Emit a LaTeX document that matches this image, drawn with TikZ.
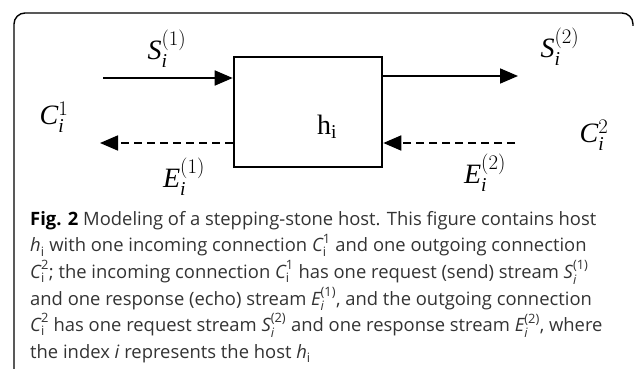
\documentclass[tikz,border=0pt]{standalone}
\usepackage{amsmath}
\usepackage{fontspec}
\setmainfont{Liberation Serif}
\newfontfamily\capfont{Open Sans}
\usetikzlibrary{arrows.meta}

% stream and connection symbols
\newcommand\mvar[3]{$\mathit{#1}_{\mathit{#2}}^{#3}$}
\newcommand\capvar[3]{$\textit{#1}_{#2}^{\text{#3}}$}

\tikzset{
  hostbox/.style={draw, line width=2.6pt, minimum width=148pt, minimum height=110pt, inner sep=0pt},
  flow/.style={line width=1.8pt, -{Triangle[length=18pt,width=15pt]}},
  echo/.style={flow, dash pattern=on 8pt off 5pt},
  mlabel/.style={inner sep=0pt, font=\fontsize{28}{30}\selectfont},
}

\begin{document}
\begin{tikzpicture}[x=1pt, y=-1pt]
\useasboundingbox (0,0) rectangle (635,369);

\draw[line width=1.4pt, rounded corners=11pt] (14,369) -- (14,13) -- (633,13) -- (633,26);

\node[hostbox] (host) at (308,112) {};
\node[mlabel] (hname) at ([shift={(19,15)}]host.center) {$\mathrm{h}_{\mathrm{i}}$};

\coordinate (s1start) at (103,78);
\coordinate (e1end) at (100,143);
\coordinate (s2end) at (518,76);
\coordinate (e2start) at (515,143);

\draw[flow] (s1start) -- (s1start -| host.west);
\draw[echo] (host.west |- e1end) -- (e1end);
\draw[flow] (host.east |- s2end) -- (s2end);
\draw[echo] (e2start) -- (e2start -| host.east);

\foreach \nm/\px/\py/\sym/\upper in {s1lab/167/49/S/(1), e1lab/184/177/E/(1),
    s2lab/560/47/S/(2), e2lab/485/173/E/(2), c1lab/54/117/C/1, c2lab/594/135/C/2}
  \node[mlabel] (\nm) at (\px,\py) {\mvar{\sym}{i}{\upper}};

\node[anchor=north west, align=left, inner sep=0pt, text=black!80,
      font=\capfont\fontsize{18.4}{26.6}\selectfont] (caption) at (30,211)
  {{\color{black}\bfseries Fig. 2} Modeling of a stepping-stone host. This figure contains host\\
   \capvar{h}{\text{i}}{} with one incoming connection \capvar{C}{\text{i}}{1} and one outgoing connection\\
   \capvar{C}{\text{i}}{2}; the incoming connection \capvar{C}{\text{i}}{1} has one request (send) stream \capvar{S}{\textit{i}}{(1)}\\
   and one response (echo) stream \capvar{E}{\textit{i}}{(1)}, and the outgoing connection\\
   \capvar{C}{\text{i}}{2} has one request stream \capvar{S}{\textit{i}}{(2)} and one response stream \capvar{E}{\textit{i}}{(2)}, where\\
   the index \textit{i} represents the host \capvar{h}{\text{i}}{}};
\end{tikzpicture}
\end{document}
